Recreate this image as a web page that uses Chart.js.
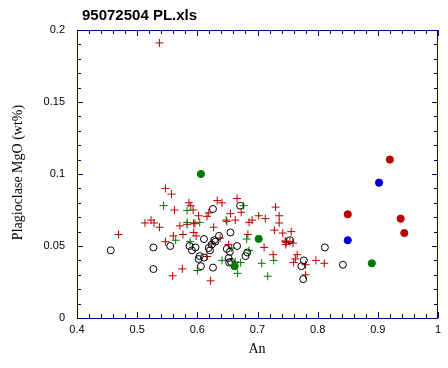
<!DOCTYPE html>
<html>
<head>
<meta charset="utf-8">
<script src="https://cdn.jsdelivr.net/npm/chart.js@4.4.1/dist/chart.umd.min.js"></script>
<style>
  html, body { margin: 0; padding: 0; background: #fff; }
  #wrap { width: 448px; height: 368px; }
</style>
</head>
<body>
<div id="wrap"><canvas id="scatterChart" width="448" height="368"></canvas></div>
<script>
// chart text
const chartTitle = '95072504 PL.xls';
const xTitle = 'An';
const yTitle = 'Plagioclase MgO (wt%)';

// red crosses
const redCrossAn  = [0.537, 0.547, 0.557, 0.544, 0.562, 0.586, 0.589, 0.593, 0.513, 0.523, 0.528, 0.537, 0.469, 0.547, 0.560,
  0.571, 0.576, 0.583, 0.594, 0.596, 0.633, 0.641, 0.666, 0.619, 0.616, 0.602, 0.655, 0.648, 0.663, 0.627, 0.594, 0.598,
  0.638, 0.624, 0.652, 0.616, 0.559, 0.575, 0.622, 0.673, 0.686, 0.691, 0.702, 0.713, 0.730, 0.736, 0.736, 0.728, 0.742,
  0.756, 0.684, 0.747, 0.754, 0.759, 0.747, 0.711, 0.726, 0.766, 0.763, 0.760, 0.780, 0.780, 0.797, 0.811, 0.746, 0.748];
const redCrossMgO = [0.191, 0.090, 0.086, 0.078, 0.075, 0.080, 0.078, 0.075, 0.066, 0.068, 0.066, 0.063, 0.058, 0.053, 0.057,
  0.064, 0.058, 0.065, 0.066, 0.0655, 0.0815, 0.080, 0.083, 0.073, 0.0706, 0.071, 0.0725, 0.068, 0.068, 0.063, 0.0594, 0.057,
  0.0555, 0.052, 0.051, 0.0427, 0.0293, 0.0341, 0.0258, 0.0734, 0.0664, 0.068, 0.071, 0.069, 0.077, 0.071, 0.066, 0.061, 0.059,
  0.060, 0.058, 0.053, 0.053, 0.052, 0.051, 0.049, 0.044, 0.044, 0.041, 0.0385, 0.037, 0.030, 0.040, 0.038, 0.0535, 0.0525];

// green crosses
const greenCrossAn  = [0.564, 0.583, 0.583, 0.588, 0.604, 0.600, 0.649, 0.657, 0.641, 0.663, 0.672, 0.667, 0.677, 0.682,
  0.686, 0.707, 0.717, 0.727];
const greenCrossMgO = [0.054, 0.0746, 0.0664, 0.053, 0.0664, 0.033, 0.067, 0.0486, 0.040, 0.039, 0.0385, 0.031, 0.078, 0.0548,
  0.047, 0.038, 0.029, 0.040];

// open circles
const openCircleAn  = [0.456, 0.527, 0.555, 0.527, 0.606, 0.626, 0.653, 0.626, 0.655, 0.636, 0.611, 0.628, 0.666, 0.649,
  0.654, 0.587, 0.591, 0.597, 0.619, 0.621, 0.624, 0.630, 0.604, 0.602, 0.611, 0.652, 0.656, 0.671, 0.754, 0.812, 0.683,
  0.680, 0.777, 0.773, 0.776, 0.842];
const openCircleMgO = [0.047, 0.049, 0.050, 0.034, 0.036, 0.035, 0.0385, 0.0757, 0.0594, 0.057, 0.0548, 0.054, 0.050, 0.048,
  0.046, 0.050, 0.047, 0.049, 0.0486, 0.047, 0.051, 0.053, 0.043, 0.041, 0.042, 0.0416, 0.039, 0.078, 0.054, 0.049, 0.0455,
  0.043, 0.040, 0.036, 0.027, 0.037];

// filled dots
const greenDotAn  = [0.606, 0.662, 0.702, 0.890];
const greenDotMgO = [0.100, 0.036, 0.055, 0.038];
const redDotAn  = [0.920, 0.850, 0.938, 0.944];
const redDotMgO = [0.110, 0.072, 0.069, 0.059];
const blueDotAn  = [0.902, 0.850];
const blueDotMgO = [0.094, 0.054];

// axis ticks
const xTicks = [0.4, 0.5, 0.6, 0.7, 0.8, 0.9, 1];
const yTicks = [0, 0.05, 0.1, 0.15, 0.2];

const red = '#bb0000';
const green = '#007a00';
const blue = '#0000cc';
const navy = '#00007f';

function toPoints(xs, ys) {
  return xs.map((v, i) => ({ x: v, y: ys[i] }));
}

// frame, inward ticks and titles
const framePlugin = {
  id: 'framePlugin',
  afterDraw(chart) {
    const ctx = chart.ctx;
    const a = chart.chartArea;
    const xs = chart.scales.x;
    const ys = chart.scales.y;
    ctx.save();
    ctx.strokeStyle = navy;
    ctx.lineWidth = 1;
    ctx.strokeRect(a.left + 0.5, a.top + 0.5, a.right - a.left - 1, a.bottom - a.top);

    ctx.beginPath();
    for (let i = 0; i <= 30; i++) {
      const v = 0.4 + i * 0.02;
      const px = Math.round(xs.getPixelForValue(v)) + 0.5;
      const len = i % 5 === 0 ? 6 : 4;
      ctx.moveTo(px, a.bottom); ctx.lineTo(px, a.bottom - len);
      ctx.moveTo(px, a.top); ctx.lineTo(px, a.top + len);
    }
    for (let i = 0; i <= 20; i++) {
      const v = i * 0.01;
      const py = Math.round(ys.getPixelForValue(v)) + 0.5;
      const len = i % 5 === 0 ? 6 : 4;
      ctx.moveTo(a.left, py); ctx.lineTo(a.left + len, py);
      ctx.moveTo(a.right, py); ctx.lineTo(a.right - len, py);
    }
    ctx.stroke();

    ctx.fillStyle = '#000';
    ctx.font = 'bold 15px "Liberation Sans", Arial, sans-serif';
    ctx.textBaseline = 'middle';
    ctx.textAlign = 'left';
    ctx.fillText(chartTitle, 82, 16);

    ctx.font = '14px "Liberation Serif", "Times New Roman", serif';
    ctx.textAlign = 'center';
    ctx.fillText(xTitle, 257, 349);

    ctx.translate(18, 172.5);
    ctx.rotate(-Math.PI / 2);
    ctx.fillText(yTitle, 0, 0);
    ctx.restore();
  }
};

const tickFont = { family: '"Liberation Sans", Arial, sans-serif', size: 11 };

const config = {
  type: 'scatter',
  data: {
    datasets: [
      {
        label: 'red dots', data: toPoints(redDotAn, redDotMgO),
        pointStyle: 'circle', pointRadius: 3.6, backgroundColor: red, borderColor: red, borderWidth: 1
      },
      {
        label: 'blue dots', data: toPoints(blueDotAn, blueDotMgO),
        pointStyle: 'circle', pointRadius: 3.6, backgroundColor: blue, borderColor: blue, borderWidth: 1
      },
      {
        label: 'green dots', data: toPoints(greenDotAn, greenDotMgO),
        pointStyle: 'circle', pointRadius: 3.6, backgroundColor: green, borderColor: green, borderWidth: 1
      },
      {
        label: 'open circles', data: toPoints(openCircleAn, openCircleMgO),
        pointStyle: 'circle', pointRadius: 3.5, backgroundColor: 'rgba(0,0,0,0)', borderColor: '#000', borderWidth: 1
      },
      {
        label: 'green crosses', data: toPoints(greenCrossAn, greenCrossMgO),
        pointStyle: 'cross', pointRadius: 4, borderColor: green, borderWidth: 1
      },
      {
        label: 'red crosses', data: toPoints(redCrossAn, redCrossMgO),
        pointStyle: 'cross', pointRadius: 4, borderColor: red, borderWidth: 1
      }
    ]
  },
  options: {
    responsive: false,
    animation: false,
    events: [],
    layout: { padding: { top: 30, right: 10, left: 0, bottom: 0 } },
    plugins: {
      legend: { display: false },
      tooltip: { enabled: false },
      title: { display: false }
    },
    scales: {
      x: {
        type: 'linear', min: 0.4, max: 1,
        grid: { display: false, drawTicks: false }, border: { display: false },
        afterBuildTicks: scale => { scale.ticks = xTicks.map(v => ({ value: v })); },
        afterFit: scale => { scale.height = 50; },
        ticks: { color: '#000', font: tickFont, padding: 5, maxRotation: 0, autoSkip: false,
          callback: v => String(v) }
      },
      y: {
        type: 'linear', min: 0, max: 0.2,
        grid: { display: false, drawTicks: false }, border: { display: false },
        afterBuildTicks: scale => { scale.ticks = yTicks.map(v => ({ value: v })); },
        afterFit: scale => { scale.width = 77; },
        ticks: { color: '#000', font: tickFont, padding: 12, autoSkip: false,
          callback: v => String(v) }
      }
    }
  },
  plugins: [framePlugin]
};

const ctx = document.getElementById('scatterChart').getContext('2d');
new Chart(ctx, config);
</script>
</body>
</html>
